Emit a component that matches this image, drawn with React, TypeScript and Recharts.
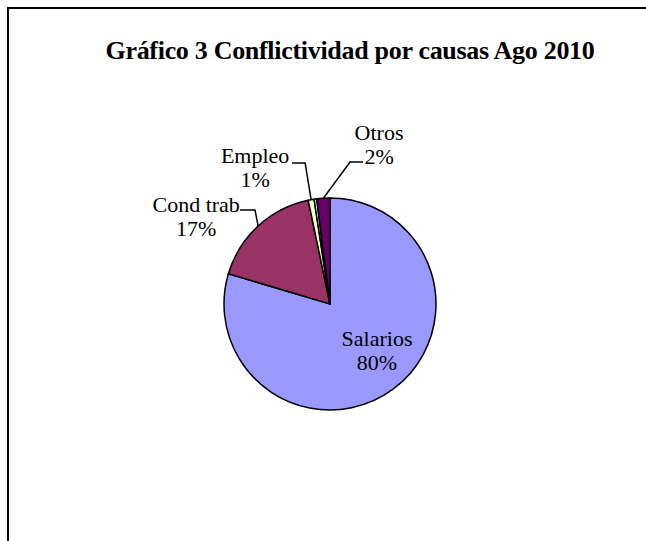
import { PieChart, Pie, Cell } from "recharts";

const TITLE = "Gráfico 3 Conflictividad por causas Ago 2010";

const causes = ["Salarios", "Cond trab", "Empleo", "Sin especificar", "Otros"];
const shares = [79.6, 17.1, 0.9, 0.4, 2.0];
const showLabel = [true, true, true, false, true];

const COLORS = ["#9999FF", "#993366", "#FFFFCC", "#CCFFFF", "#660066"];

const data = causes.map((name, i) => ({ name, value: shares[i] }));

const FONT = "Liberation Serif, Times New Roman, serif";
const RADIAN = Math.PI / 180;

// label placement, relative to the slice's anchor point
type LabelPos = {
  text: [number, number];
  elbow?: [number, number];
  tail?: [number, number];
};
const LABEL_POS: Record<number, LabelPos> = {
  0: { text: [9, -5] },
  1: { text: [-62, -10.4], elbow: [-3.2, -16.1], tail: [-18.2, -16.1] },
  2: { text: [-56, -32.7], elbow: [-6, -36.7], tail: [-19, -36.7] },
  4: { text: [55.7, -54.2], elbow: [26.7, -36.2], tail: [39.7, -36.2] },
};

const renderLabel = (props: any) => {
  const { cx, cy, midAngle, outerRadius, percent, index, name } = props;
  if (!showLabel[index]) return null;
  const pos = LABEL_POS[index];
  if (!pos) return null;
  const r = index === 0 ? outerRadius * 0.6 : outerRadius;
  const ax = cx + r * Math.cos(-midAngle * RADIAN);
  const ay = cy + r * Math.sin(-midAngle * RADIAN);
  const tx = ax + pos.text[0];
  const ty = ay + pos.text[1];
  const pct = `${Math.round(percent * 100)}%`;
  return (
    <g key={`lbl-${index}`} fontFamily={FONT} style={{ fontFamily: FONT }}>
      {pos.elbow && pos.tail && (
        <polyline
          points={`${ax},${ay} ${ax + pos.elbow[0]},${ay + pos.elbow[1]} ${ax + pos.tail[0]},${ay + pos.tail[1]}`}
          fill="none"
          stroke="#000"
          strokeWidth={1.5}
        />
      )}
      <text x={tx} y={ty - 4} textAnchor="middle" fill="#000" stroke="none" fontFamily={FONT} fontSize={22}>
        {name}
      </text>
      <text x={tx} y={ty + 20} textAnchor="middle" fill="#000" stroke="none" fontFamily={FONT} fontSize={22}>
        {pct}
      </text>
    </g>
  );
};

export default function App() {
  return (
    <div
      style={{
        position: "absolute",
        left: 0,
        top: 0,
        width: 646,
        height: 541,
        overflow: "hidden",
        background: "#fff",
        fontFamily: FONT,
      }}
    >
      <div
        style={{
          position: "absolute",
          left: 7,
          top: 7,
          width: 700,
          height: 600,
          border: "2px solid #000",
        }}
      />
      <div
        style={{
          position: "absolute",
          left: 0,
          top: 38,
          width: 700,
          textAlign: "center",
          fontWeight: "bold",
          fontSize: 26,
          lineHeight: "26px",
          letterSpacing: -0.3,
          color: "#000",
        }}
      >
        {TITLE}
      </div>
      <div style={{ position: "absolute", left: 0, top: 0 }}>
        <PieChart
          width={646}
          height={541}
          margin={{ top: 0, right: 0, bottom: 0, left: 0 }}
          style={{ fontFamily: FONT }}
        >
          <Pie
            data={data}
            dataKey="value"
            nameKey="name"
            cx={330}
            cy={304}
            outerRadius={106}
            startAngle={90}
            endAngle={-270}
            stroke="#000"
            strokeWidth={1.5}
            labelLine={false}
            label={renderLabel}
            isAnimationActive={false}
          >
            {data.map((entry, index) => (
              <Cell key={`cell-${entry.name}`} fill={COLORS[index]} stroke="#000" strokeWidth={1.5} />
            ))}
          </Pie>
        </PieChart>
      </div>
    </div>
  );
}
